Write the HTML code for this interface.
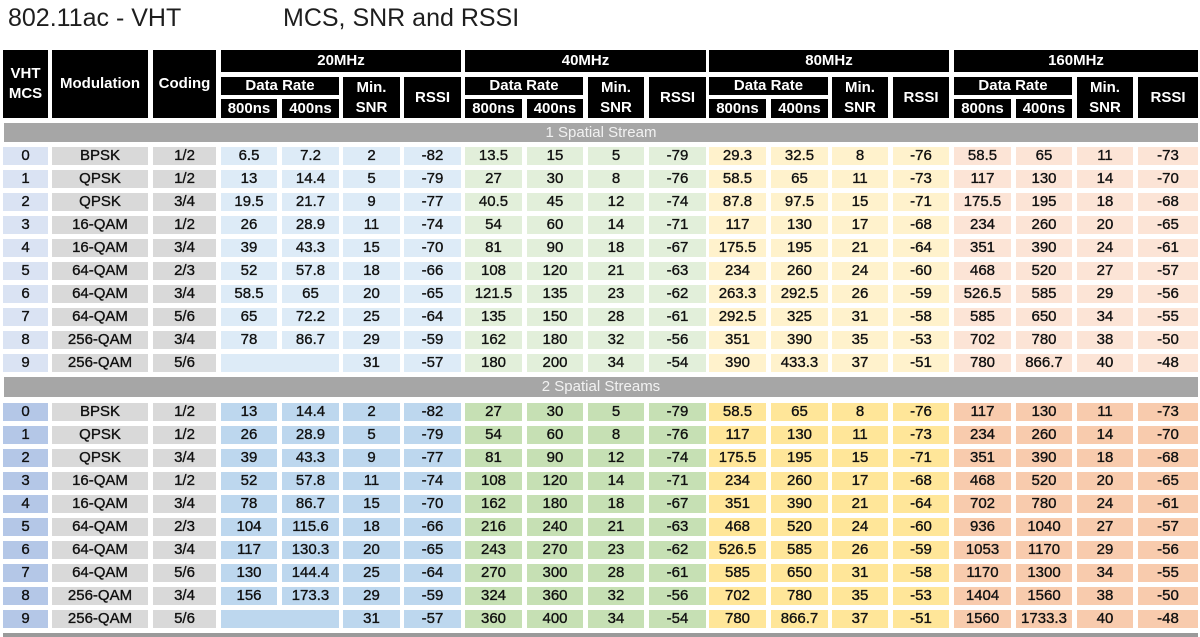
<!DOCTYPE html>
<html><head><meta charset="utf-8"><style>
*{margin:0;padding:0;box-sizing:border-box}
html,body{width:1200px;height:637px;background:#fff;overflow:hidden;font-family:"Liberation Sans",sans-serif}
.t{position:absolute;top:6px;font-size:25px;line-height:25px;color:#1e1e1e;white-space:nowrap}
.h{position:absolute;background:#000;color:#fff;font-weight:bold;font-size:15px;text-align:center;display:flex;align-items:center;justify-content:center;line-height:20px;white-space:nowrap}
.bar{position:absolute;left:4px;width:1194px;height:19px;background:#a6a6a6;color:#f2f2f2;font-size:15px;line-height:19px;text-align:center}
.r{position:absolute;left:0;width:1200px;height:18px}
.r span{position:absolute;top:0;height:18px;line-height:18px;text-align:center;font-size:15px;color:#111;white-space:nowrap;-webkit-text-stroke:0.35px #111}
.a{left:3px;width:45px}.b{left:52px;width:96px}.c{left:153px;width:63px}
.d1{left:221px;width:56px}.d2{left:282px;width:57px}.d3{left:343px;width:57px}.d4{left:404px;width:57px}
.dm{left:221px;width:118px}
.e1{left:465px;width:57px}.e2{left:527px;width:56px}.e3{left:588px;width:56px}.e4{left:649px;width:57px}
.f1{left:709px;width:57px}.f2{left:771px;width:57px}.f3{left:832px;width:56px}.f4{left:893px;width:56px}
.g1{left:954px;width:57px}.g2{left:1016px;width:56px}.g3{left:1077px;width:56px}.g4{left:1138px;width:60px}
.b,.c{background:#d9d9d9}
.s1 .a{background:#dae3f3}
.s1 .d1,.s1 .d2,.s1 .d3,.s1 .d4,.s1 .dm{background:#ddebf7}
.s1 .e1,.s1 .e2,.s1 .e3,.s1 .e4{background:#e2efda}
.s1 .f1,.s1 .f2,.s1 .f3,.s1 .f4{background:#fff2cc}
.s1 .g1,.s1 .g2,.s1 .g3,.s1 .g4{background:#fce4d6}
.s2 .a{background:#b4c7e7}
.s2 .d1,.s2 .d2,.s2 .d3,.s2 .d4,.s2 .dm{background:#bdd7ee}
.s2 .e1,.s2 .e2,.s2 .e3,.s2 .e4{background:#c6e0b4}
.s2 .f1,.s2 .f2,.s2 .f3,.s2 .f4{background:#ffe699}
.s2 .g1,.s2 .g2,.s2 .g3,.s2 .g4{background:#f8cbad}
.bot{position:absolute;left:3px;top:633px;width:1195px;height:4px;background:#9a9a9a}
</style></head><body>
<div class="t" style="left:8px">802.11ac - VHT</div>
<div class="t" style="left:283px">MCS, SNR and RSSI</div>

<div class="h" style="left:3px;top:50px;width:45px;height:68px">VHT<br>MCS</div>
<div class="h" style="left:52px;top:50px;width:96px;height:68px">Modulation</div>
<div class="h" style="left:153px;top:50px;width:63px;height:68px">Coding</div>

<div class="h" style="left:221px;top:50px;width:240px;height:22px">20MHz</div>
<div class="h" style="left:221px;top:77px;width:118px;height:18px">Data Rate</div>
<div class="h" style="left:221px;top:99px;width:56px;height:19px">800ns</div>
<div class="h" style="left:282px;top:99px;width:57px;height:19px">400ns</div>
<div class="h" style="left:343px;top:77px;width:57px;height:41px">Min.<br>SNR</div>
<div class="h" style="left:404px;top:77px;width:57px;height:41px">RSSI</div>

<div class="h" style="left:465px;top:50px;width:241px;height:22px">40MHz</div>
<div class="h" style="left:465px;top:77px;width:118px;height:18px">Data Rate</div>
<div class="h" style="left:465px;top:99px;width:57px;height:19px">800ns</div>
<div class="h" style="left:527px;top:99px;width:56px;height:19px">400ns</div>
<div class="h" style="left:588px;top:77px;width:56px;height:41px">Min.<br>SNR</div>
<div class="h" style="left:649px;top:77px;width:57px;height:41px">RSSI</div>

<div class="h" style="left:709px;top:50px;width:240px;height:22px">80MHz</div>
<div class="h" style="left:709px;top:77px;width:119px;height:18px">Data Rate</div>
<div class="h" style="left:709px;top:99px;width:57px;height:19px">800ns</div>
<div class="h" style="left:771px;top:99px;width:57px;height:19px">400ns</div>
<div class="h" style="left:832px;top:77px;width:56px;height:41px">Min.<br>SNR</div>
<div class="h" style="left:893px;top:77px;width:56px;height:41px">RSSI</div>

<div class="h" style="left:954px;top:50px;width:244px;height:22px">160MHz</div>
<div class="h" style="left:954px;top:77px;width:118px;height:18px">Data Rate</div>
<div class="h" style="left:954px;top:99px;width:57px;height:19px">800ns</div>
<div class="h" style="left:1016px;top:99px;width:56px;height:19px">400ns</div>
<div class="h" style="left:1077px;top:77px;width:56px;height:41px">Min.<br>SNR</div>
<div class="h" style="left:1138px;top:77px;width:60px;height:41px">RSSI</div>

<div class="bar" style="top:123px">1 Spatial Stream</div>

<div class="r s1" style="top:147px"><span class="a">0</span><span class="b">BPSK</span><span class="c">1/2</span><span class="d1">6.5</span><span class="d2">7.2</span><span class="d3">2</span><span class="d4">-82</span><span class="e1">13.5</span><span class="e2">15</span><span class="e3">5</span><span class="e4">-79</span><span class="f1">29.3</span><span class="f2">32.5</span><span class="f3">8</span><span class="f4">-76</span><span class="g1">58.5</span><span class="g2">65</span><span class="g3">11</span><span class="g4">-73</span></div>
<div class="r s1" style="top:170px"><span class="a">1</span><span class="b">QPSK</span><span class="c">1/2</span><span class="d1">13</span><span class="d2">14.4</span><span class="d3">5</span><span class="d4">-79</span><span class="e1">27</span><span class="e2">30</span><span class="e3">8</span><span class="e4">-76</span><span class="f1">58.5</span><span class="f2">65</span><span class="f3">11</span><span class="f4">-73</span><span class="g1">117</span><span class="g2">130</span><span class="g3">14</span><span class="g4">-70</span></div>
<div class="r s1" style="top:193px"><span class="a">2</span><span class="b">QPSK</span><span class="c">3/4</span><span class="d1">19.5</span><span class="d2">21.7</span><span class="d3">9</span><span class="d4">-77</span><span class="e1">40.5</span><span class="e2">45</span><span class="e3">12</span><span class="e4">-74</span><span class="f1">87.8</span><span class="f2">97.5</span><span class="f3">15</span><span class="f4">-71</span><span class="g1">175.5</span><span class="g2">195</span><span class="g3">18</span><span class="g4">-68</span></div>
<div class="r s1" style="top:216px"><span class="a">3</span><span class="b">16-QAM</span><span class="c">1/2</span><span class="d1">26</span><span class="d2">28.9</span><span class="d3">11</span><span class="d4">-74</span><span class="e1">54</span><span class="e2">60</span><span class="e3">14</span><span class="e4">-71</span><span class="f1">117</span><span class="f2">130</span><span class="f3">17</span><span class="f4">-68</span><span class="g1">234</span><span class="g2">260</span><span class="g3">20</span><span class="g4">-65</span></div>
<div class="r s1" style="top:239px"><span class="a">4</span><span class="b">16-QAM</span><span class="c">3/4</span><span class="d1">39</span><span class="d2">43.3</span><span class="d3">15</span><span class="d4">-70</span><span class="e1">81</span><span class="e2">90</span><span class="e3">18</span><span class="e4">-67</span><span class="f1">175.5</span><span class="f2">195</span><span class="f3">21</span><span class="f4">-64</span><span class="g1">351</span><span class="g2">390</span><span class="g3">24</span><span class="g4">-61</span></div>
<div class="r s1" style="top:262px"><span class="a">5</span><span class="b">64-QAM</span><span class="c">2/3</span><span class="d1">52</span><span class="d2">57.8</span><span class="d3">18</span><span class="d4">-66</span><span class="e1">108</span><span class="e2">120</span><span class="e3">21</span><span class="e4">-63</span><span class="f1">234</span><span class="f2">260</span><span class="f3">24</span><span class="f4">-60</span><span class="g1">468</span><span class="g2">520</span><span class="g3">27</span><span class="g4">-57</span></div>
<div class="r s1" style="top:285px"><span class="a">6</span><span class="b">64-QAM</span><span class="c">3/4</span><span class="d1">58.5</span><span class="d2">65</span><span class="d3">20</span><span class="d4">-65</span><span class="e1">121.5</span><span class="e2">135</span><span class="e3">23</span><span class="e4">-62</span><span class="f1">263.3</span><span class="f2">292.5</span><span class="f3">26</span><span class="f4">-59</span><span class="g1">526.5</span><span class="g2">585</span><span class="g3">29</span><span class="g4">-56</span></div>
<div class="r s1" style="top:308px"><span class="a">7</span><span class="b">64-QAM</span><span class="c">5/6</span><span class="d1">65</span><span class="d2">72.2</span><span class="d3">25</span><span class="d4">-64</span><span class="e1">135</span><span class="e2">150</span><span class="e3">28</span><span class="e4">-61</span><span class="f1">292.5</span><span class="f2">325</span><span class="f3">31</span><span class="f4">-58</span><span class="g1">585</span><span class="g2">650</span><span class="g3">34</span><span class="g4">-55</span></div>
<div class="r s1" style="top:331px"><span class="a">8</span><span class="b">256-QAM</span><span class="c">3/4</span><span class="d1">78</span><span class="d2">86.7</span><span class="d3">29</span><span class="d4">-59</span><span class="e1">162</span><span class="e2">180</span><span class="e3">32</span><span class="e4">-56</span><span class="f1">351</span><span class="f2">390</span><span class="f3">35</span><span class="f4">-53</span><span class="g1">702</span><span class="g2">780</span><span class="g3">38</span><span class="g4">-50</span></div>
<div class="r s1" style="top:354px"><span class="a">9</span><span class="b">256-QAM</span><span class="c">5/6</span><span class="dm"></span><span class="d3">31</span><span class="d4">-57</span><span class="e1">180</span><span class="e2">200</span><span class="e3">34</span><span class="e4">-54</span><span class="f1">390</span><span class="f2">433.3</span><span class="f3">37</span><span class="f4">-51</span><span class="g1">780</span><span class="g2">866.7</span><span class="g3">40</span><span class="g4">-48</span></div>

<div class="bar" style="top:377px;height:20px;line-height:20px">2 Spatial Streams</div>

<div class="r s2" style="top:403px"><span class="a">0</span><span class="b">BPSK</span><span class="c">1/2</span><span class="d1">13</span><span class="d2">14.4</span><span class="d3">2</span><span class="d4">-82</span><span class="e1">27</span><span class="e2">30</span><span class="e3">5</span><span class="e4">-79</span><span class="f1">58.5</span><span class="f2">65</span><span class="f3">8</span><span class="f4">-76</span><span class="g1">117</span><span class="g2">130</span><span class="g3">11</span><span class="g4">-73</span></div>
<div class="r s2" style="top:426px"><span class="a">1</span><span class="b">QPSK</span><span class="c">1/2</span><span class="d1">26</span><span class="d2">28.9</span><span class="d3">5</span><span class="d4">-79</span><span class="e1">54</span><span class="e2">60</span><span class="e3">8</span><span class="e4">-76</span><span class="f1">117</span><span class="f2">130</span><span class="f3">11</span><span class="f4">-73</span><span class="g1">234</span><span class="g2">260</span><span class="g3">14</span><span class="g4">-70</span></div>
<div class="r s2" style="top:449px"><span class="a">2</span><span class="b">QPSK</span><span class="c">3/4</span><span class="d1">39</span><span class="d2">43.3</span><span class="d3">9</span><span class="d4">-77</span><span class="e1">81</span><span class="e2">90</span><span class="e3">12</span><span class="e4">-74</span><span class="f1">175.5</span><span class="f2">195</span><span class="f3">15</span><span class="f4">-71</span><span class="g1">351</span><span class="g2">390</span><span class="g3">18</span><span class="g4">-68</span></div>
<div class="r s2" style="top:472px"><span class="a">3</span><span class="b">16-QAM</span><span class="c">1/2</span><span class="d1">52</span><span class="d2">57.8</span><span class="d3">11</span><span class="d4">-74</span><span class="e1">108</span><span class="e2">120</span><span class="e3">14</span><span class="e4">-71</span><span class="f1">234</span><span class="f2">260</span><span class="f3">17</span><span class="f4">-68</span><span class="g1">468</span><span class="g2">520</span><span class="g3">20</span><span class="g4">-65</span></div>
<div class="r s2" style="top:495px"><span class="a">4</span><span class="b">16-QAM</span><span class="c">3/4</span><span class="d1">78</span><span class="d2">86.7</span><span class="d3">15</span><span class="d4">-70</span><span class="e1">162</span><span class="e2">180</span><span class="e3">18</span><span class="e4">-67</span><span class="f1">351</span><span class="f2">390</span><span class="f3">21</span><span class="f4">-64</span><span class="g1">702</span><span class="g2">780</span><span class="g3">24</span><span class="g4">-61</span></div>
<div class="r s2" style="top:518px"><span class="a">5</span><span class="b">64-QAM</span><span class="c">2/3</span><span class="d1">104</span><span class="d2">115.6</span><span class="d3">18</span><span class="d4">-66</span><span class="e1">216</span><span class="e2">240</span><span class="e3">21</span><span class="e4">-63</span><span class="f1">468</span><span class="f2">520</span><span class="f3">24</span><span class="f4">-60</span><span class="g1">936</span><span class="g2">1040</span><span class="g3">27</span><span class="g4">-57</span></div>
<div class="r s2" style="top:541px"><span class="a">6</span><span class="b">64-QAM</span><span class="c">3/4</span><span class="d1">117</span><span class="d2">130.3</span><span class="d3">20</span><span class="d4">-65</span><span class="e1">243</span><span class="e2">270</span><span class="e3">23</span><span class="e4">-62</span><span class="f1">526.5</span><span class="f2">585</span><span class="f3">26</span><span class="f4">-59</span><span class="g1">1053</span><span class="g2">1170</span><span class="g3">29</span><span class="g4">-56</span></div>
<div class="r s2" style="top:564px"><span class="a">7</span><span class="b">64-QAM</span><span class="c">5/6</span><span class="d1">130</span><span class="d2">144.4</span><span class="d3">25</span><span class="d4">-64</span><span class="e1">270</span><span class="e2">300</span><span class="e3">28</span><span class="e4">-61</span><span class="f1">585</span><span class="f2">650</span><span class="f3">31</span><span class="f4">-58</span><span class="g1">1170</span><span class="g2">1300</span><span class="g3">34</span><span class="g4">-55</span></div>
<div class="r s2" style="top:587px"><span class="a">8</span><span class="b">256-QAM</span><span class="c">3/4</span><span class="d1">156</span><span class="d2">173.3</span><span class="d3">29</span><span class="d4">-59</span><span class="e1">324</span><span class="e2">360</span><span class="e3">32</span><span class="e4">-56</span><span class="f1">702</span><span class="f2">780</span><span class="f3">35</span><span class="f4">-53</span><span class="g1">1404</span><span class="g2">1560</span><span class="g3">38</span><span class="g4">-50</span></div>
<div class="r s2" style="top:610px"><span class="a">9</span><span class="b">256-QAM</span><span class="c">5/6</span><span class="dm"></span><span class="d3">31</span><span class="d4">-57</span><span class="e1">360</span><span class="e2">400</span><span class="e3">34</span><span class="e4">-54</span><span class="f1">780</span><span class="f2">866.7</span><span class="f3">37</span><span class="f4">-51</span><span class="g1">1560</span><span class="g2">1733.3</span><span class="g3">40</span><span class="g4">-48</span></div>

<div class="bot"></div>
</body></html>
